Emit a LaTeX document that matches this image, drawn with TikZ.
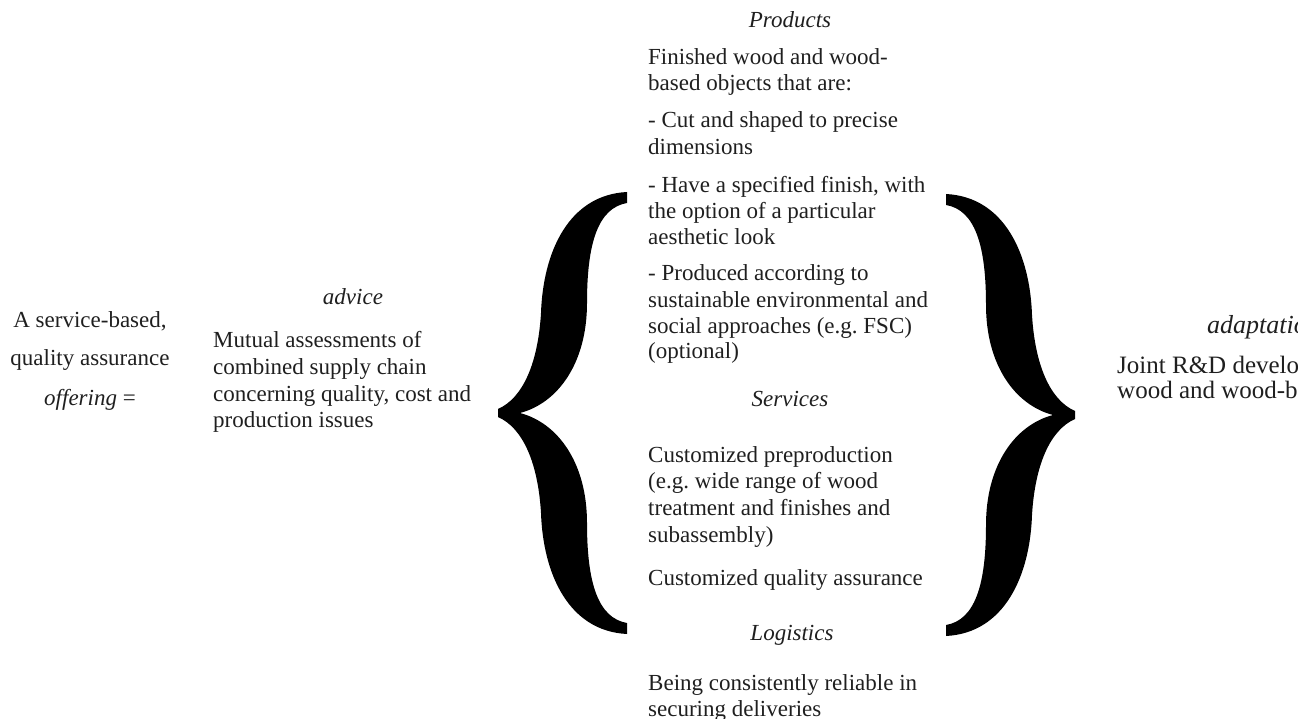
\documentclass[tikz,border=0pt]{standalone}
\usepackage{fontspec}
\setmainfont{Liberation Serif}
\begin{document}
\begin{tikzpicture}[x=1pt,y=-1pt,
  txt/.style={inner sep=0pt, font=\fontsize{23pt}{26pt}\selectfont, text=black!88},
  ln/.style={txt, anchor=base west},
  ctr/.style={txt, anchor=base},
  hd/.style={txt, anchor=base, font=\fontsize{23pt}{26pt}\selectfont\itshape},
  rln/.style={txt, anchor=base west, font=\fontsize{25pt}{28pt}\selectfont},
  rhd/.style={txt, anchor=base west, font=\fontsize{26pt}{28pt}\selectfont\itshape},
  bigbrace/.pic={
    \fill[black] (0,4) .. controls (25,15) and (40,50) .. (43,100)
      .. controls (45,160) and (70,218) .. (129,221) -- (129,210)
      .. controls (100,205) and (89,170) .. (89,110)
      .. controls (89,50) and (60,10) .. (22,0)
      .. controls (60,-10) and (89,-50) .. (89,-110)
      .. controls (89,-170) and (100,-205) .. (129,-210) -- (129,-221)
      .. controls (70,-218) and (45,-160) .. (43,-100)
      .. controls (40,-50) and (25,-15) .. (0,-4) -- cycle;
  }]
\useasboundingbox (0,0) rectangle (1298,719);
\clip (0,0) rectangle (1298,719);

% left column
\node[ctr] (l1) at (90,327) {A service-based,};
\node[ctr] (l2) at (90,365) {quality assurance};
\node[ctr] (l3) at (90,405) {\textit{offering} =};

% advice
\node[hd] (ah) at (353,305) {advice};
\node[ln] (a1) at (213,347) {Mutual assessments of};
\node[ln] (a2) at (213,374) {combined supply chain};
\node[ln] (a3) at (213,401) {concerning quality, cost and};
\node[ln] (a4) at (213,427) {production issues};

% braces
\pic at (498,413) {bigbrace};
\pic[xscale=-1] at (1075,415) {bigbrace};

% products
\node[hd] (ph) at (790,28) {Products};
\node[ln] (c1) at (648,65) {Finished wood and wood-};
\node[ln] (c2) at (648,91) {based objects that are:};
\node[ln] (c3) at (648,128) {- Cut and shaped to precise};
\node[ln] (c4) at (648,155) {dimensions};
\node[ln] (c5) at (648,193) {- Have a specified finish, with};
\node[ln] (c6) at (648,219) {the option of a particular};
\node[ln] (c7) at (648,245) {aesthetic look};
\node[ln] (c8) at (648,280) {- Produced according to};
\node[ln] (c9) at (648,307) {sustainable environmental and};
\node[ln] (c10) at (648,333) {social approaches (e.g.\ FSC)};
\node[ln] (c11) at (648,358) {(optional)};

% services
\node[hd] (sh) at (790,406) {Services};
\node[ln] (s1) at (648,462) {Customized preproduction};
\node[ln] (s2) at (648,488) {(e.g.\ wide range of wood};
\node[ln] (s3) at (648,515) {treatment and finishes and};
\node[ln] (s4) at (648,542) {subassembly)};
\node[ln] (s5) at (648,585) {Customized quality assurance};

% logistics
\node[hd] (gh) at (792,640) {Logistics};
\node[ln] (g1) at (648,690) {Being consistently reliable in};
\node[ln] (g2) at (648,716) {securing deliveries};

% adaptation (cut off at the right edge, as in the reference)
\node[rhd] (dh) at (1207,333) {adaptation};
\node[rln] (d1) at (1117,373) {Joint R\&D development};
\node[rln] (d2) at (1117,398) {wood and wood-based};
\end{tikzpicture}
\end{document}
